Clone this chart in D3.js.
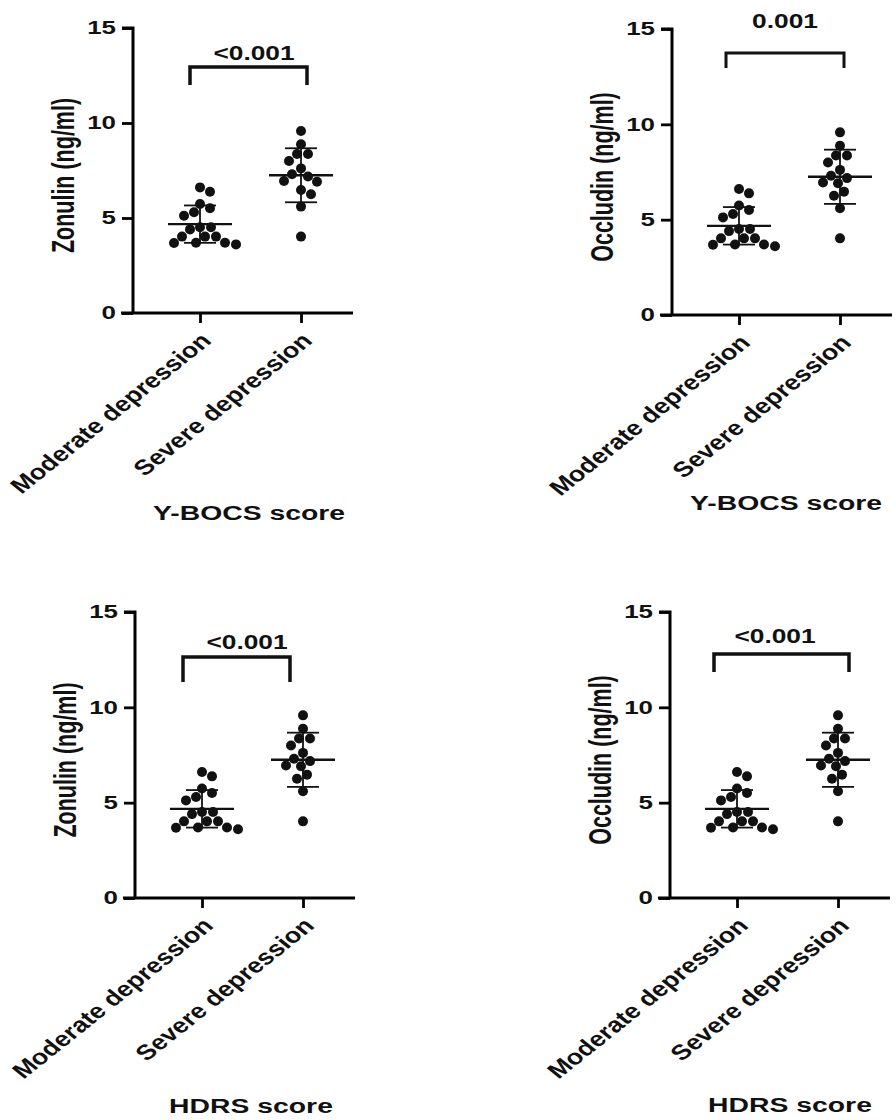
<!DOCTYPE html>
<html>
<head>
<meta charset="utf-8">
<script src="https://cdn.jsdelivr.net/npm/d3@7"></script>
<style>
  body { margin: 0; background: #fff; }
  svg text { font-family: "Liberation Sans", Arial, sans-serif; font-weight: bold; fill: #111; }
</style>
</head>
<body>
<div id="chart"></div>
<script>
// data (same values in all four panels)
var categories = ["Moderate depression", "Severe depression"];
var moderateValues = [6.61, 6.38, 5.74, 5.51, 5.30, 5.12, 4.51, 4.51, 4.40, 4.02, 4.02, 4.02, 3.70, 3.70, 3.68, 3.61];
var severeValues = [9.58, 8.88, 8.37, 8.37, 8.00, 7.61, 7.30, 7.18, 6.95, 6.91, 6.47, 6.25, 5.60, 4.02];
var yTicks = [0, 5, 10, 15];
var yLabels = ["Zonulin (ng/ml)", "Occludin (ng/ml)", "Zonulin (ng/ml)", "Occludin (ng/ml)"];
var xTitles = ["Y-BOCS score", "Y-BOCS score", "HDRS score", "HDRS score"];
var pValues = ["<0.001", "0.001", "<0.001", "<0.001"];

// panel layout (pixels) + bracket levels (data units)
var panels = [
  {ox: 133, y0: 313, y15: 28,  titleX: 249, titleY: 520,  brL: -10, brR: 6,  brTop: 12.95, brLeg: 12.0,  pX: 254, pAt: 13.3,  brW: 3.5},
  {ox: 672, y0: 315, y15: 29,  titleX: 786, titleY: 510,  brL: -13, brR: 4,  brTop: 13.74, brLeg: 12.95, pX: 785, pAt: 15.05, brW: 3},
  {ox: 135, y0: 898, y15: 612, titleX: 251, titleY: 1113, brL: -19, brR: -13, brTop: 12.64, brLeg: 11.33, pX: 247, pAt: 13.06, brW: 3.5},
  {ox: 670, y0: 898, y15: 612, titleX: 790, titleY: 1112, brL: -23, brR: 11, brTop: 12.8,  brLeg: 11.85, pX: 775, pAt: 13.37, brW: 3.5}
];

var W = 896, H = 1120;
var sx = 1.35;   // the figure's text is stretched horizontally
var r = 5;

var svg = d3.select("#chart").append("svg")
  .attr("width", W).attr("height", H);
svg.append("rect").attr("width", W).attr("height", H).attr("fill", "#fff");

// simple beeswarm: put each dot at the nearest free offset from the centre
function swarm(values, y) {
  var placed = [];
  var d = 2 * r * 1.02;
  values.forEach(function(v, i) {
    var py = y(v);
    var best = null;
    for (var k = 0; k < 80 && best === null; k++) {
      var cands = k === 0 ? [0] : (i % 2 ? [k, -k] : [-k, k]);
      for (var c = 0; c < cands.length; c++) {
        var off = cands[c];
        var ok = placed.every(function(p) {
          return Math.hypot(p.dx - off, p.y - py) >= d;
        });
        if (ok) { best = off; break; }
      }
    }
    placed.push({v: v, y: py, dx: best});
  });
  return placed;
}

panels.forEach(function(P, pi) {
  var g = svg.append("g").attr("transform", "translate(" + P.ox + ",0)");

  var y = d3.scaleLinear().domain([0, 15]).range([P.y0, P.y15]);
  var x = d3.scalePoint().domain(categories).range([67, 168]);

  // y axis
  var ya = g.append("g")
    .call(d3.axisLeft(y).tickValues(yTicks).tickSize(11).tickPadding(6));
  ya.select(".domain").attr("stroke-width", 3).attr("d", "M0," + P.y0 + "V" + P.y15 + "H-11");
  ya.selectAll(".tick line").attr("stroke-width", 2.8);
  ya.selectAll(".tick text")
    .attr("x", null)
    .attr("font-size", 18.5)
    .attr("transform", "translate(-17,0) scale(1.4,1)");

  // x axis
  var xa = g.append("g").attr("transform", "translate(0," + P.y0 + ")")
    .call(d3.axisBottom(x).tickSize(10));
  xa.select(".domain").attr("stroke-width", 3).attr("d", "M-12,0H220");
  xa.selectAll(".tick line").attr("stroke-width", 2.8);
  xa.selectAll(".tick text")
    .attr("x", null).attr("y", null).attr("dy", null)
    .attr("text-anchor", "end")
    .attr("font-size", 21.5)
    .attr("transform", "translate(12,29) scale(1.25,1) rotate(-45)");

  // y label
  g.append("text")
    .attr("text-anchor", "middle")
    .attr("font-size", 21.5)
    .attr("transform", "translate(-59," + ((P.y0 + P.y15) / 2 + 5) + ") scale(1.45,1) rotate(-90)")
    .text(yLabels[pi]);

  // x title
  svg.append("text")
    .attr("text-anchor", "middle")
    .attr("font-size", 21)
    .attr("transform", "translate(" + P.titleX + "," + P.titleY + ") scale(" + sx + ",1)")
    .text(xTitles[pi]);

  // groups
  [moderateValues, severeValues].forEach(function(vals, ci) {
    var cx = x(categories[ci]);
    var dots = swarm(vals, y);
    g.selectAll(".dot" + ci)
      .data(dots)
      .enter().append("circle")
      .attr("cx", function(d) { return cx + d.dx; })
      .attr("cy", function(d) { return d.y; })
      .attr("r", r)
      .attr("fill", "#111");

    var m = d3.mean(vals), sd = d3.deviation(vals);
    var eb = g.append("g").attr("stroke", "#111").attr("fill", "none");
    eb.append("line").attr("x1", cx).attr("x2", cx)
      .attr("y1", y(m - sd)).attr("y2", y(m + sd)).attr("stroke-width", 1.8);
    [m - sd, m + sd].forEach(function(v) {
      eb.append("line").attr("x1", cx - 16).attr("x2", cx + 16)
        .attr("y1", y(v)).attr("y2", y(v)).attr("stroke-width", 1.8);
    });
    eb.append("line").attr("x1", cx - 32).attr("x2", cx + 32)
      .attr("y1", y(m)).attr("y2", y(m)).attr("stroke-width", 2.4);
  });

  // significance bracket
  var bx1 = x(categories[0]) + P.brL, bx2 = x(categories[1]) + P.brR;
  g.append("path")
    .attr("d", "M" + bx1 + "," + y(P.brLeg) + "V" + y(P.brTop) + "H" + bx2 + "V" + y(P.brLeg))
    .attr("fill", "none").attr("stroke", "#111").attr("stroke-width", P.brW)
    .attr("stroke-linejoin", "miter");
  svg.append("text")
    .attr("text-anchor", "middle")
    .attr("font-size", 19.5)
    .attr("transform", "translate(" + P.pX + "," + y(P.pAt) + ") scale(" + sx + ",1)")
    .text(pValues[pi]);
});
</script>
</body>
</html>
